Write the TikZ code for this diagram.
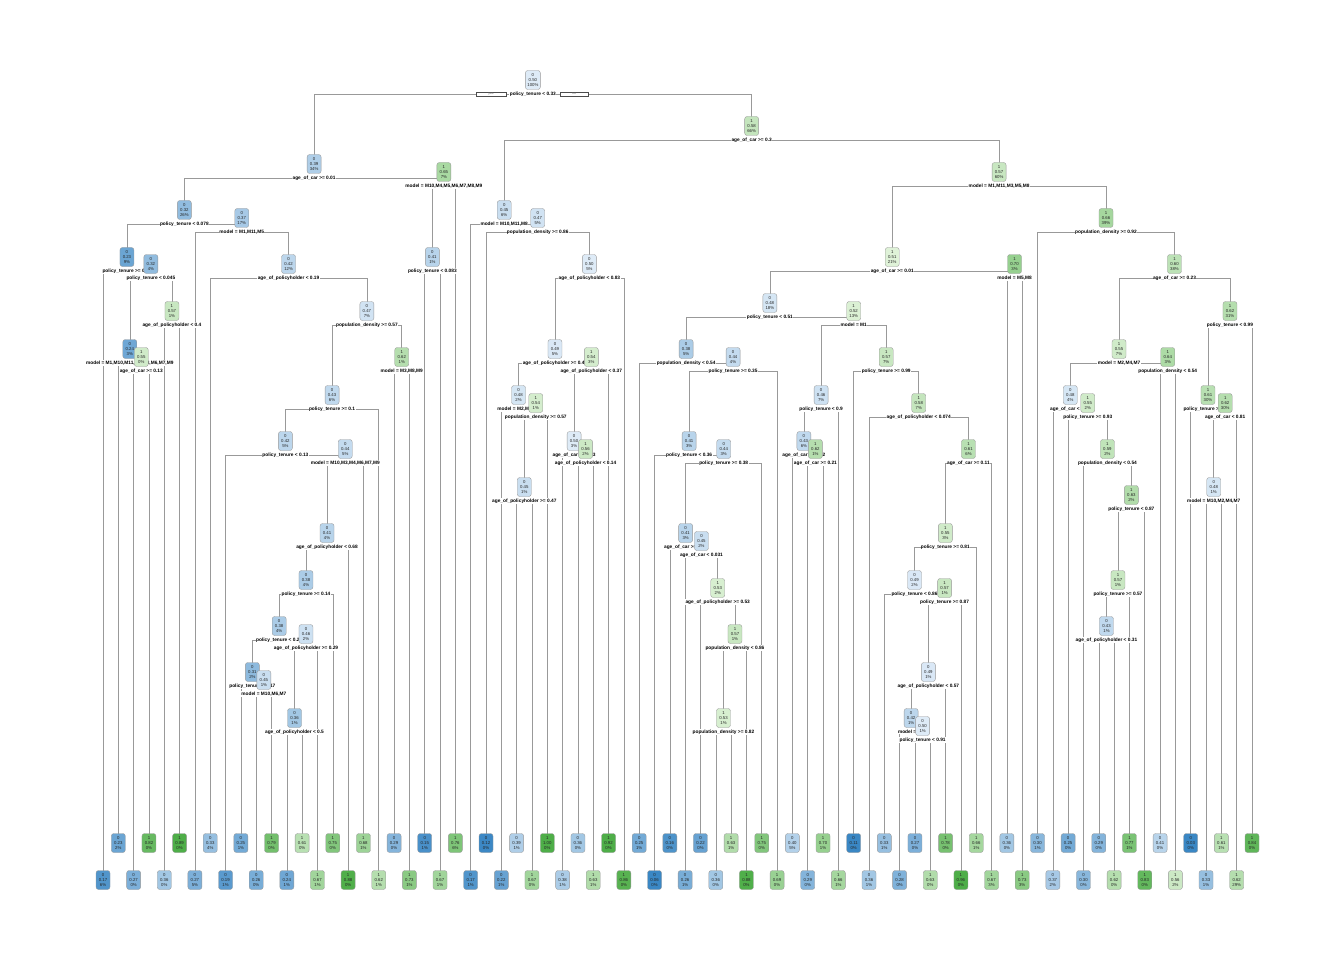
\documentclass[tikz,border=0pt]{standalone}
\usepackage{fontspec}
\setmainfont{Liberation Sans}
\usetikzlibrary{backgrounds}
\definecolor{bL}{HTML}{DEEBF7}
\definecolor{bD}{HTML}{3A87C4}
\definecolor{gL}{HTML}{E3F4DC}
\definecolor{gD}{HTML}{4EAE48}
\tikzset{
 tbox/.style={draw=black!40, line width=0.35pt, rounded corners=2.5pt, minimum width=14pt, minimum height=19pt, inner xsep=2pt, inner ysep=1pt, align=center, font=\fontsize{4.3}{5.2}\selectfont, text=black!85},
 slab/.style={fill=white, inner sep=0.4pt, font=\fontsize{4.8}{5}\selectfont\bfseries, text=black},
 conn/.style={draw=black!40, line width=0.6pt},
 yn/.style={draw=black!70, fill=white, line width=0.3pt, minimum height=4.5pt, inner sep=0pt, font=\fontsize{3.4}{3.4}\selectfont, text=black!60}
}
\newcommand\boxcol[2]{\ifnum#1=0 \pgfmathsetmacro\tint{min(100,(0.5-#2)*260)}\edef\cc{bD!\tint!bL}\else\pgfmathsetmacro\tint{min(100,(#2-0.5)*260)}\edef\cc{gD!\tint!gL}\fi}
\newcommand\inode[7]{\boxcol{#4}{#5}%
  \node[tbox, fill=\cc] (#1) at ({103+15.32*#2},#3) {#4\\#5\\#6\%};
  \node[slab] (s#1) at ({103+15.32*#2},{#3+14}) {#7};}
\begin{document}
\begin{tikzpicture}[x=1pt,y=-1pt]
\useasboundingbox (0,0) rectangle (1344,960);
% root and left subtree
\inode{R0}{28.06}{80}{0}{0.50}{100}{policy\_tenure < 0.33}
\node[yn, minimum width=30pt] (yes) at (491,94) {yes};
\node[yn, minimum width=28pt] (no) at (574,94) {no};
\inode{L1}{13.78}{164}{0}{0.39}{34}{age\_of\_car >= 0.01}
\inode{L2}{5.31}{210}{0}{0.32}{26}{policy\_tenure < 0.078}
\inode{L4}{1.5625}{257}{0}{0.23}{9}{policy\_tenure >= 0.16}
\inode{L6}{3.125}{264}{0}{0.32}{4}{policy\_tenure < 0.045}
\inode{L7}{1.75}{349}{0}{0.24}{3}{model = M1,M10,M11,M2,M3,M6,M7,M9}
\inode{L9}{2.5}{357}{1}{0.55}{0}{age\_of\_car >= 0.13}
\inode{L8}{4.5}{311}{1}{0.57}{1}{age\_of\_policyholder < 0.4}
\inode{L5}{9.057}{218}{0}{0.37}{17}{model = M1,M11,M5}
\inode{L10}{12.113}{264}{0}{0.42}{12}{age\_of\_policyholder < 0.19}
\inode{L11}{17.227}{311}{0}{0.47}{7}{population\_density >= 0.57}
\inode{L13}{19.5}{357}{1}{0.62}{1}{model = M3,M8,M9}
\inode{L12}{14.953}{395}{0}{0.43}{6}{policy\_tenure >= 0.1}
\inode{L14}{11.906}{441}{0}{0.42}{5}{policy\_tenure < 0.13}
\inode{L15}{15.8125}{449}{0}{0.44}{5}{model = M10,M3,M4,M6,M7,M9}
\inode{L16}{14.625}{533}{0}{0.41}{4}{age\_of\_policyholder < 0.68}
\inode{L17}{13.25}{580}{0}{0.38}{4}{policy\_tenure >= 0.14}
\inode{L18}{11.5}{626}{0}{0.38}{4}{policy\_tenure < 0.24}
\inode{L19}{13.25}{634}{0}{0.46}{2}{age\_of\_policyholder >= 0.29}
\inode{L20}{9.75}{672}{0}{0.31}{2}{policy\_tenure < 0.17}
\inode{L22}{10.5}{680}{0}{0.45}{1}{model = M10,M6,M7}
\inode{L21}{12.5}{718}{0}{0.36}{1}{age\_of\_policyholder < 0.5}
\inode{L3}{22.25}{172}{1}{0.65}{7}{model = M10,M4,M5,M6,M7,M8,M9}
\inode{L23}{21.5}{257}{0}{0.41}{1}{policy\_tenure < 0.083}
% right subtree
\inode{R1}{42.34}{126}{1}{0.58}{66}{age\_of\_car >= 0.3}
\inode{R2}{26.1875}{210}{0}{0.45}{6}{model = M10,M11,M8}
\inode{R4}{28.375}{218}{0}{0.47}{5}{population\_density >= 0.86}
\inode{R5}{31.75}{264}{0}{0.50}{5}{age\_of\_policyholder < 0.83}
\inode{R6}{29.5}{349}{0}{0.49}{5}{age\_of\_policyholder >= 0.45}
\inode{R7}{31.875}{357}{1}{0.54}{3}{age\_of\_policyholder < 0.37}
\inode{R8}{27.125}{395}{0}{0.48}{2}{model = M2,M4,M7}
\inode{R10}{28.25}{403}{1}{0.54}{1}{population\_density >= 0.57}
\inode{R11}{27.5}{487}{0}{0.45}{1}{age\_of\_policyholder >= 0.47}
\inode{R9}{30.75}{441}{0}{0.50}{3}{age\_of\_car >= 0.23}
\inode{R12}{31.5}{449}{1}{0.56}{2}{age\_of\_policyholder < 0.14}
\inode{R3}{58.49}{172}{1}{0.57}{60}{model = M1,M11,M3,M5,M8}
\inode{R13}{51.516}{257}{1}{0.51}{21}{age\_of\_car >= 0.01}
\inode{R16}{59.5}{264}{1}{0.70}{3}{model = M5,M8}
\inode{R15}{43.53}{303}{0}{0.48}{18}{policy\_tenure < 0.51}
\inode{R18}{38.065}{349}{0}{0.38}{5}{population\_density < 0.54}
\inode{R19}{41.129}{357}{0}{0.44}{4}{policy\_tenure >= 0.35}
\inode{R20}{38.258}{441}{0}{0.41}{3}{policy\_tenure < 0.36}
\inode{R21}{40.516}{449}{0}{0.44}{3}{policy\_tenure >= 0.38}
\inode{R22}{38.03}{533}{0}{0.41}{3}{age\_of\_car >= 0.02}
\inode{R23}{39.0625}{541}{0}{0.45}{2}{age\_of\_car < 0.031}
\inode{R24}{40.125}{588}{1}{0.53}{2}{age\_of\_policyholder >= 0.53}
\inode{R25}{41.25}{634}{1}{0.57}{1}{population\_density < 0.86}
\inode{R26}{40.5}{718}{1}{0.53}{1}{population\_density >= 0.82}
\inode{R17}{49.0}{311}{1}{0.52}{13}{model = M1}
\inode{R27}{46.875}{395}{0}{0.46}{7}{policy\_tenure < 0.9}
\inode{R29}{45.75}{441}{0}{0.43}{6}{age\_of\_car >= 0.12}
\inode{R30}{46.5}{449}{1}{0.62}{1}{age\_of\_car >= 0.21}
\inode{R28}{51.123}{357}{1}{0.57}{7}{policy\_tenure >= 0.99}
\inode{R31}{53.246}{403}{1}{0.58}{7}{age\_of\_policyholder < 0.074}
\inode{R32}{56.492}{449}{1}{0.61}{6}{age\_of\_car >= 0.11}
\inode{R33}{54.984}{533}{1}{0.55}{3}{policy\_tenure >= 0.81}
\inode{R34}{52.97}{580}{0}{0.49}{2}{policy\_tenure < 0.86}
\inode{R35}{54.9375}{588}{1}{0.57}{1}{policy\_tenure >= 0.87}
\inode{R36}{53.875}{672}{0}{0.49}{1}{age\_of\_policyholder < 0.57}
\inode{R37}{52.75}{718}{0}{0.42}{1}{model = M7}
\inode{R38}{53.5}{726}{0}{0.50}{1}{policy\_tenure < 0.91}
\inode{R14}{65.47}{218}{1}{0.66}{39}{population\_density >= 0.92}
\inode{R39}{69.94}{264}{1}{0.60}{38}{age\_of\_car >= 0.23}
\inode{R40}{66.32}{349}{1}{0.55}{7}{model = M2,M4,M7}
\inode{R42}{69.5}{357}{1}{0.64}{3}{population\_density < 0.54}
\inode{R43}{63.14}{395}{0}{0.48}{4}{age\_of\_car < 0.27}
\inode{R44}{64.28}{403}{1}{0.55}{2}{policy\_tenure >= 0.93}
\inode{R45}{65.5625}{449}{1}{0.59}{2}{population\_density < 0.54}
\inode{R46}{67.125}{495}{1}{0.63}{2}{policy\_tenure < 0.87}
\inode{R47}{66.25}{580}{1}{0.57}{1}{policy\_tenure >= 0.57}
\inode{R48}{65.5}{626}{0}{0.43}{1}{age\_of\_policyholder < 0.31}
\inode{R41}{73.5625}{311}{1}{0.62}{31}{policy\_tenure < 0.99}
\inode{R49}{72.125}{395}{1}{0.61}{30}{policy\_tenure >= 0.05}
\inode{R50}{73.25}{403}{1}{0.62}{30}{age\_of\_car < 0.81}
\inode{R51}{72.5}{487}{0}{0.48}{1}{model = M10,M2,M4,M7}
% leaves
\foreach \k/\c/\v/\p in {0/0/0.17/6,1/0/0.23/2,2/0/0.27/0,3/1/0.82/0,4/0/0.36/0,5/1/0.89/0,6/0/0.27/5,7/0/0.33/4,8/0/0.19/1,9/0/0.25/1,
 10/0/0.26/0,11/1/0.79/0,12/0/0.24/1,13/1/0.61/0,14/1/0.67/1,15/1/0.75/0,16/1/0.88/0,17/1/0.68/1,18/1/0.62/1,19/0/0.29/0,
 20/1/0.73/1,21/0/0.15/1,22/1/0.67/1,23/1/0.76/6,24/0/0.17/1,25/0/0.12/0,26/0/0.22/1,27/0/0.39/1,28/1/0.67/0,29/1/1.00/0,
 30/0/0.38/1,31/0/0.36/0,32/1/0.63/1,33/1/0.92/0,34/1/0.86/0,35/0/0.25/1,36/0/0.06/0,37/0/0.16/0,38/0/0.26/1,39/0/0.22/0,
 40/0/0.36/0,41/1/0.63/1,42/1/0.88/0,43/1/0.75/0,44/1/0.69/0,45/0/0.40/5,46/0/0.29/0,47/1/0.70/1,48/1/0.66/1,49/0/0.11/0,
 50/0/0.36/1,51/0/0.33/1,52/0/0.28/0,53/0/0.27/0,54/1/0.63/0,55/1/0.78/0,56/1/0.96/0,57/1/0.66/1,58/1/0.67/3,59/0/0.36/0,
 60/1/0.73/3,61/0/0.30/1,62/0/0.37/2,63/0/0.25/0,64/0/0.30/0,65/0/0.29/0,66/1/0.62/0,67/1/0.77/1,68/1/0.83/0,69/0/0.41/0,
 70/1/0.56/2,71/0/0.03/0,72/0/0.33/1,73/1/0.61/1,74/1/0.62/29,75/1/0.84/0}{
  \boxcol{\c}{\v}
  \pgfmathsetmacro\yy{mod(\k,2)==0 ? 880 : 843}
  \node[tbox, fill=\cc] (k\k) at ({103+15.32*\k},\yy) {\c\\\v\\\p\%};
}
\begin{scope}[on background layer]
\fill[white] (0,0) rectangle (1344,960);
\foreach \a/\b/\c in {R0/L1/R1, L1/L2/L3, L2/L4/L5, L4/k0/L6, L6/L7/L8, L7/k1/L9, L9/k2/k3, L8/k4/k5,
 L5/k6/L10, L10/k7/L11, L11/L12/L13, L13/k19/k20, L12/L14/k18, L14/k8/L15, L15/L16/k17, L16/L17/k16,
 L17/L18/k15, L18/L20/L19, L20/k9/L22, L22/k10/k11, L19/L21/k14, L21/k12/k13, L3/L23/k23, L23/k21/k22,
 R1/R2/R3, R2/k24/R4, R4/k25/R5, R5/R6/k34, R6/R8/R7, R8/k26/R10, R10/R11/k29, R11/k27/k28,
 R7/R9/k33, R9/k30/R12, R12/k31/k32, R3/R13/R14, R13/R15/R16, R16/k59/k60, R15/R18/R17,
 R18/k35/R19, R19/R20/k44, R20/k36/R21, R21/R22/k43, R22/k37/R23, R23/k38/R24, R24/k39/R25,
 R25/R26/k42, R26/k40/k41, R17/R27/R28, R27/R29/k48, R29/k45/R30, R30/k46/k47, R28/k49/R31,
 R31/k50/R32, R32/R33/k58, R33/R34/k57, R34/k51/R35, R35/R36/k56, R36/R37/k55, R37/k52/R38,
 R38/k53/k54, R14/k61/R39, R39/R40/R41, R40/R43/R42, R42/k69/k70, R43/k62/R44, R44/k63/R45,
 R45/k64/R46, R46/R47/k68, R47/R48/k67, R48/k65/k66, R41/R49/k75, R49/k71/R50, R50/R51/k74,
 R51/k72/k73}{
  \draw[conn] (s\a.center) -| (\b.center);
  \draw[conn] (s\a.center) -| (\c.center);
}
\end{scope}
\end{tikzpicture}
\end{document}
